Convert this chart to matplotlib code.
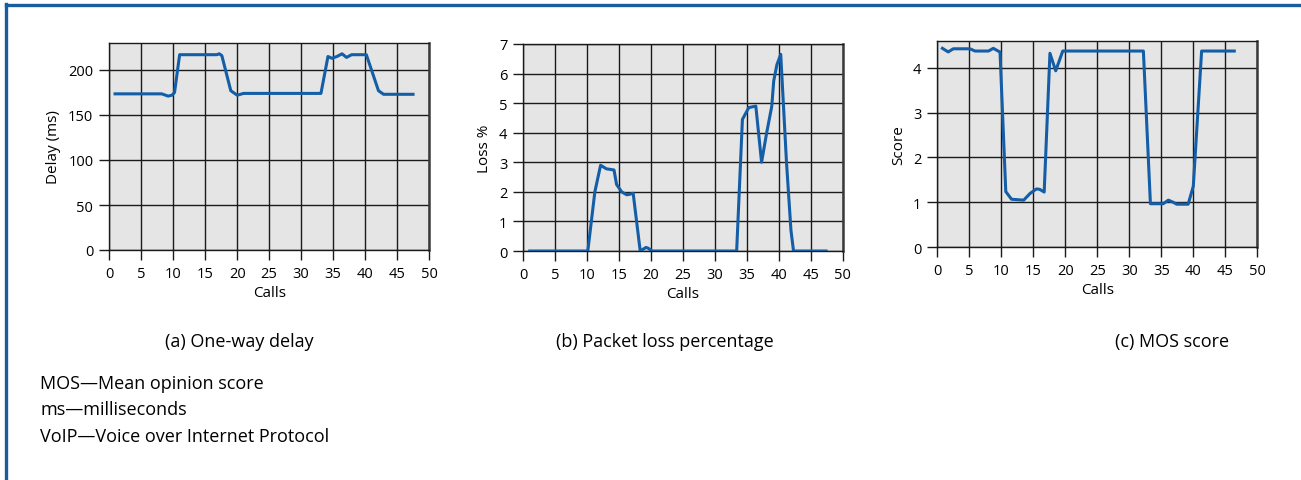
import matplotlib.pyplot as plt
from matplotlib.lines import Line2D

# (a) one-way delay
delayCalls = [0.9, 8.2, 9.2, 9.8, 10.2, 11.0, 16.8, 17.2, 17.6, 19.0, 20.0, 21.0,
              33.1, 34.2, 34.8, 35.6, 36.4, 37.1, 37.9, 40.2, 42.1, 42.9, 47.5]
delayMs = [173.5, 173.5, 171, 172, 175, 217, 217, 218, 216, 177, 172, 174,
           174, 215, 213, 215, 218, 214, 217, 217, 177, 173, 173]

# (b) packet loss
lossCalls = [1.0, 10.1, 11.2, 12.1, 13.0, 14.2, 14.6, 15.4, 16.2, 16.7, 17.2, 18.3,
             19.2, 19.5, 20.2, 33.4, 34.3, 35.3, 36.4, 37.3, 38.1, 38.9, 39.2,
             39.7, 40.3, 41.2, 41.9, 42.3, 47.4]
lossPct = [0, 0, 2.0, 2.9, 2.78, 2.74, 2.25, 2.0, 1.9, 1.92, 1.95, 0,
           0.12, 0.1, 0, 0, 4.45, 4.85, 4.9, 3.0, 4.0, 4.9, 5.75,
           6.3, 6.65, 3.0, 0.7, 0, 0]

# (c) MOS score
mosCalls = [0.8, 1.7, 2.5, 5.1, 5.9, 8.0, 8.75, 9.5, 9.8, 10.7, 11.6, 13.5, 14.5,
            15.5, 16.0, 16.7, 17.6, 18.5, 19.6, 32.2, 33.3, 35.3, 36.1, 36.9,
            37.4, 39.2, 40.0, 41.3, 46.4]
mosScore = [4.43, 4.35, 4.42, 4.42, 4.37, 4.37, 4.43, 4.37, 4.35, 1.24, 1.07, 1.05, 1.2,
            1.3, 1.29, 1.23, 4.32, 3.93, 4.37, 4.37, 0.97, 0.97, 1.05, 1.0,
            0.96, 0.96, 1.36, 4.37, 4.37]

xTicks = list(range(0, 51, 5))
delayTicks = [0, 50, 100, 150, 200]
lossTicks = list(range(0, 8))
mosTicks = [0, 1, 2, 3, 4]

captions = ["(a) One-way delay", "(b) Packet loss percentage", "(c) MOS score"]
footnotes = ["MOS\u2014Mean opinion score", "ms\u2014milliseconds",
             "VoIP\u2014Voice over Internet Protocol"]

plt.rcParams["font.family"] = ["Open Sans", "DejaVu Sans"]

lineColor = "#135ea6"
frameColor = "#1a5c9e"
figW, figH = 1301, 481

fig = plt.figure(figsize=(figW / 100, figH / 100), dpi=100)


def pxBox(left, top, right, bottom):
    return [left / figW, 1 - bottom / figH, (right - left) / figW, (bottom - top) / figH]


panels = [
    (pxBox(109.3, 44, 429, 251), delayCalls, delayMs, delayTicks, (0, 230), "Delay (ms)"),
    (pxBox(523.3, 45, 842.7, 252), lossCalls, lossPct, lossTicks, (0, 7), "Loss %"),
    (pxBox(937.3, 41.7, 1257.3, 248.3), mosCalls, mosScore, mosTicks, (0, 4.6), "Score"),
]

axesList = []
for box, xs, ys, yTicks, yLim, yLabel in panels:
    ax = fig.add_axes(box)
    ax.set_facecolor("#e5e5e5")
    ax.plot(xs, ys, color=lineColor, linewidth=2.2, solid_joinstyle="round", zorder=3)
    ax.set_xlim(0, 50)
    ax.set_ylim(*yLim)
    ax.set_xticks(xTicks)
    ax.set_yticks(yTicks)
    ax.grid(True, color="#1a1a1a", linewidth=1.0)
    ax.set_axisbelow(True)
    ax.tick_params(axis="both", length=7, width=1.0, color="#1a1a1a",
                   labelsize=10.5, pad=4.5)
    for side in ["top", "left", "bottom"]:
        ax.spines[side].set_color("#1a1a1a")
        ax.spines[side].set_linewidth(1.0)
    ax.spines["right"].set_color("#3a3a3a")
    ax.spines["right"].set_linewidth(1.8)
    ax.set_xlabel("Calls", fontsize=11, labelpad=3)
    ax.set_ylabel(yLabel, fontsize=11, labelpad=5)
    axesList.append(ax)

# caption centres (pixels)
captionX = [239, 665, 1172]
for xPix, caption in zip(captionX, captions):
    fig.text(xPix / figW, 1 - 342 / figH, caption, ha="center", va="center", fontsize=13)

for i, note in enumerate(footnotes):
    fig.text(40 / figW, 1 - (384 + 26.5 * i) / figH, note, ha="left", va="center", fontsize=13)

# blue frame on top and left
fig.add_artist(Line2D([5.5 / figW, 1.0], [1 - 6 / figH, 1 - 6 / figH], color=frameColor,
                      linewidth=2.4, transform=fig.transFigure))
fig.add_artist(Line2D([6 / figW, 6 / figW], [0.0, 1 - 5 / figH], color=frameColor,
                      linewidth=2.4, transform=fig.transFigure))

fig.savefig("out.png", dpi=100)
